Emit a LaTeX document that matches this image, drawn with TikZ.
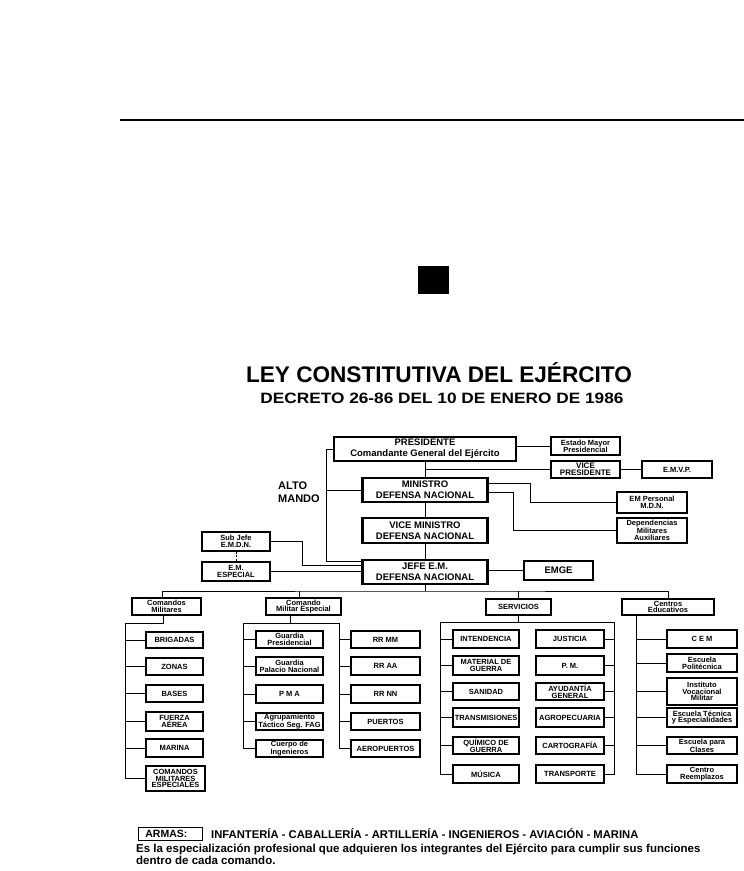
\documentclass[tikz,border=0pt]{standalone}
\usepackage{fontspec}
\setmainfont{Liberation Sans}
\usepackage{graphicx}
\usetikzlibrary{positioning}

\tikzset{
  wh/.style 2 args={minimum width=#1pt, minimum height=#2pt},
  big/.style={draw, line width=2.2pt, inner sep=0pt, align=center, font=\fontsize{9.5}{11}\selectfont\bfseries},
  mid/.style={draw, line width=1.6pt, inner sep=0pt, align=center, font=\fontsize{7.5}{7}\selectfont\bfseries},
  box/.style={draw, line width=1.1pt, inner sep=0pt, align=center, font=\fontsize{7.5}{6.8}\selectfont\bfseries},
  con/.style={line width=0.9pt},
  tee/.style={to path={|- (\tikztotarget)}},
}

\begin{document}
\begin{tikzpicture}[x=1pt, y=-1pt]
  \useasboundingbox (0,0) rectangle (744,871);

  % heading
  \draw[line width=1.1pt] (120,120) -- (744,120);
  \fill (418,266) rectangle (449,294);
  \node[anchor=base, font=\fontsize{22.6}{24}\selectfont\bfseries] (title) at (439,382) {LEY CONSTITUTIVA DEL EJÉRCITO};
  \node[anchor=base, font=\fontsize{15}{17}\selectfont\bfseries] (decreto) at (442,403) {\scalebox{1.15}[1]{DECRETO 26-86 DEL 10 DE ENERO DE 1986}};

  % alto mando
  \node[big, wh={182}{24}] (pres) at (425,449) {PRESIDENTE\\Comandante General del Ejército};
  \node[big, wh={125}{24}] (min) at (425,490) {MINISTRO\\DEFENSA NACIONAL};
  \node[big, wh={125}{25}] (vmin) at (425,530.5) {VICE MINISTRO\\DEFENSA NACIONAL};
  \node[big, wh={125}{24}] (jefe) at (425,572) {JEFE E.M.\\DEFENSA NACIONAL};
  \node[anchor=west, inner sep=0pt, align=left, font=\fontsize{11}{13}\selectfont\bfseries] (alto) at (278,492.5) {ALTO\\MANDO};

  \node[mid, wh={69}{18}] (emp) at (585.5,446) {Estado Mayor\\Presidencial};
  \node[mid, wh={69}{17}, font=\fontsize{8}{7}\selectfont\bfseries] (vp) at (585.5,469.5) {VICE\\PRESIDENTE};
  \node[box, wh={70}{17}] (emvp) at (677,469.5) {E.M.V.P.};
  \node[box, wh={70}{21}] (empers) at (652,502.5) {EM Personal\\M.D.N.};
  \node[box, wh={70}{25}] (dep) at (652,530.5) {Dependencias\\Militares\\Auxiliares};
  \node[mid, wh={69}{19}, font=\fontsize{9.5}{11}\selectfont\bfseries] (emge) at (558.5,570.5) {EMGE};
  \node[mid, wh={68}{19}] (subjefe) at (236,541.5) {Sub Jefe\\E.M.D.N.};
  \node[mid, wh={68}{19}] (emesp) at (236,571.5) {E.M.\\ESPECIAL};

  \path[con] (pres) edge (min) (min) edge (vmin) (vmin) edge (jefe);
  \draw[con] (emp.west) -- (emp.west -| pres.east);
  \draw[con] (vp.west) -- (vp.west -| pres.south);
  \draw[con] (vp) -- (emvp);
  \draw[con] ([yshift=7pt]min.east) -- ++(42,0) |- (empers.west);
  \draw[con] ([yshift=-2pt]min.east) -- ++(25,0) |- (dep.west);
  \draw[con] (pres.west) -- ++(-6,0) |- ([yshift=-3pt]jefe.north west);
  \draw[con] (min.west) -- ++(-34,0);
  \draw[con] (subjefe.east) -- ++(32,0) |- ([yshift=-7pt]jefe.north west);
  \draw[con] (emesp.east) -- (emesp.east -| jefe.west);
  \draw[con, dash pattern=on 2pt off 1.5pt] (subjefe) -- (emesp);
  \draw[con] (emge.west -| jefe.east) -- (emge.west);

  % comandos
  \node[box, wh={69}{17}] (cm) at (166.5,606.5) {Comandos\\Militares};
  \node[box, wh={75}{17}] (cme) at (303.5,606.5) {Comando\\Militar Especial};
  \node[box, wh={65}{16}] (serv) at (518.5,607) {SERVICIOS};
  \node[box, wh={92}{16}] (cedu) at (668,607) {Centros\\Educativos};

  \coordinate (bus) at (425,591);
  \draw[con] (jefe) -- (bus);
  \draw[con] ([xshift=-4pt]cm.north) |- (bus) -| (cedu.north);
  \draw[con] ([xshift=-4pt]cme.north) -- ([xshift=-4pt]cme.north |- bus);
  \draw[con] (serv.north) -- (serv.north |- bus);

  % comandos militares
  \node[box, wh={57}{16}] (brig) at (174.5,640) {BRIGADAS};
  \node[box, wh={57}{17}] (zonas) at (174.5,666.5) {ZONAS};
  \node[box, wh={57}{17}] (bases) at (174.5,693.5) {BASES};
  \node[box, wh={57}{19}] (fza) at (174.5,721.5) {FUERZA\\AÉREA};
  \node[box, wh={57}{18}] (marina) at (174.5,748) {MARINA};
  \node[box, wh={59}{25}] (cmesp) at (175.5,778.5) {COMANDOS\\MILITARES\\ESPECIALES};

  \coordinate (cmsp) at (125,623);
  \draw[con] ([xshift=-3.5pt]cm.south) |- (cmsp);
  \path[con] (cmsp) edge[tee] (brig.west) edge[tee] (zonas.west) edge[tee] (bases.west)
    edge[tee] (fza.west) edge[tee] (marina.west) edge[tee] (cmesp.west);

  % comando militar especial
  \node[box, wh={67}{17}] (gp) at (289.5,639.5) {Guardia\\Presidencial};
  \node[box, wh={67}{18}] (gpn) at (289.5,666) {Guardia\\Palacio Nacional};
  \node[box, wh={67}{18}] (pma) at (289.5,694) {P M A};
  \node[box, wh={67}{17}] (agr) at (289.5,721.5) {Agrupamiento\\Táctico Seg. FAG};
  \node[box, wh={67}{17}] (cue) at (289.5,748.5) {Cuerpo de\\Ingenieros};
  \node[box, wh={69}{17}] (rrmm) at (385.5,639.5) {RR MM};
  \node[box, wh={69}{18}] (rraa) at (385.5,666) {RR AA};
  \node[box, wh={69}{18}] (rrnn) at (385.5,694) {RR NN};
  \node[box, wh={69}{17}] (puertos) at (385.5,721.5) {PUERTOS};
  \node[box, wh={69}{17}] (aerop) at (385.5,748.5) {AEROPUERTOS};

  \coordinate (cmel) at (243,623);
  \coordinate (cmer) at (339,623);
  \draw[con] ([xshift=-13.5pt]cme.south) -- ([xshift=-13.5pt]cme.south |- cmel);
  \draw[con] (cmel) -- (cmer);
  \path[con] (cmel) edge[tee] (gp.west) edge[tee] (gpn.west) edge[tee] (pma.west)
    edge[tee] (agr.west) edge[tee] (cue.west);
  \path[con] (cmer) edge[tee] (rrmm.west) edge[tee] (rraa.west) edge[tee] (rrnn.west)
    edge[tee] (puertos.west) edge[tee] (aerop.west);

  % servicios
  \node[box, wh={66}{18}] (int) at (486,639) {INTENDENCIA};
  \node[box, wh={66}{19}] (mat) at (486,665.5) {MATERIAL DE\\GUERRA};
  \node[box, wh={66}{17}] (san) at (486,691.5) {SANIDAD};
  \node[box, wh={66}{19}] (tra) at (486,717.5) {TRANSMISIONES};
  \node[box, wh={66}{17}] (qui) at (486,745.5) {QUÍMICO DE\\GUERRA};
  \node[box, wh={66}{18}] (mus) at (486,774) {MÚSICA};
  \node[box, wh={68}{18}] (just) at (570,639) {JUSTICIA};
  \node[box, wh={68}{19}] (pm) at (570,665.5) {P. M.};
  \node[box, wh={68}{17}] (ayu) at (570,691.5) {AYUDANTÍA\\GENERAL};
  \node[box, wh={68}{19}] (agro) at (570,717.5) {AGROPECUARIA};
  \node[box, wh={68}{17}] (car) at (570,745.5) {CARTOGRAFÍA};
  \node[box, wh={68}{18}] (trans) at (570,774) {TRANSPORTE};

  \coordinate (svl) at (440,622);
  \coordinate (svr) at (614,622);
  \draw[con] (serv.south) -- (serv.south |- svl);
  \draw[con] (svl) -- (svr);
  \path[con] (svl) edge[tee] (int.west) edge[tee] (mat.west) edge[tee] (san.west)
    edge[tee] (tra.west) edge[tee] (qui.west) edge[tee] (mus.west);
  \path[con] (svr) edge[tee] (just.east) edge[tee] (pm.east) edge[tee] (ayu.east)
    edge[tee] (agro.east) edge[tee] (car.east) edge[tee] (trans.east);

  % centros educativos
  \node[box, wh={70}{18}] (cem) at (702,639) {C E M};
  \node[box, wh={70}{18}] (pol) at (702,663) {Escuela\\Politécnica};
  \node[box, wh={70}{27}] (inst) at (702,691.5) {Instituto\\Vocacional\\Militar};
  \node[box, wh={70}{19}] (tec) at (702,717.5) {Escuela Técnica\\y Especialidades};
  \node[box, wh={70}{17}] (cla) at (702,745.5) {Escuela para\\Clases};
  \node[box, wh={70}{18}] (reem) at (702,774) {Centro\\Reemplazos};

  \coordinate (cesp) at ([xshift=-32pt]cedu.south);
  \path[con] (cesp) edge[tee] (cem.west) edge[tee] (pol.west) edge[tee] (inst.west)
    edge[tee] (tec.west) edge[tee] (cla.west) edge[tee] (reem.west);

  % armas
  \node[draw, line width=0.8pt, anchor=west, inner xsep=7pt, inner ysep=0pt, text width=50pt, minimum height=13pt, align=left, font=\fontsize{10.5}{12}\selectfont\bfseries] (armas) at (138,833.5) {ARMAS:};
  \node[anchor=base west, inner sep=0pt, font=\fontsize{11.25}{13}\selectfont\bfseries] (ramas) at (211,838.5) {INFANTERÍA - CABALLERÍA - ARTILLERÍA - INGENIEROS - AVIACIÓN - MARINA};
  \node[anchor=north west, inner sep=0pt, align=left, font=\fontsize{11.5}{10.5}\selectfont\bfseries] (def) at (136,844) {Es la especialización profesional que adquieren los integrantes del Ejército para cumplir sus funciones\\dentro de cada comando.};
\end{tikzpicture}
\end{document}
